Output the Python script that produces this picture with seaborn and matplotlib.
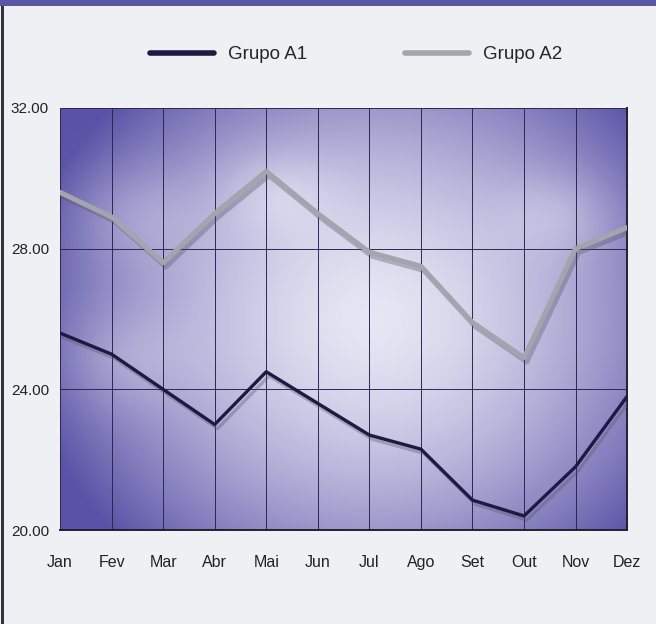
import numpy as np
import pandas as pd
import seaborn as sns
import matplotlib.pyplot as plt
import matplotlib.patheffects as pe
from matplotlib.patches import Rectangle
from matplotlib.colors import to_rgb

# --- Data ---
months = ["Jan", "Fev", "Mar", "Abr", "Mai", "Jun",
          "Jul", "Ago", "Set", "Out", "Nov", "Dez"]
grupo_a1 = [25.6, 25.0, 24.0, 23.0, 24.5, 23.6, 22.7, 22.3, 20.85, 20.4, 21.8, 23.8]
grupo_a2 = [29.6, 28.9, 27.6, 29.0, 30.2, 29.0, 27.9, 27.5, 25.9, 24.9, 28.0, 28.6]
series_names = ["Grupo A1", "Grupo A2"]
y_ticks = [20, 24, 28, 32]
# -------------------------------------

df = pd.concat([
    pd.DataFrame({"Mes": months, "Valor": grupo_a1, "Serie": series_names[0]}),
    pd.DataFrame({"Mes": months, "Valor": grupo_a2, "Serie": series_names[1]}),
])

sns.set_theme(style="white")
plt.rcParams["font.family"] = ["Liberation Sans", "DejaVu Sans"]

fig = plt.figure(figsize=(6.56, 6.24), dpi=100, facecolor="#eef0f3")
ax = fig.add_axes([0.0915, 0.1506, 0.8645, 0.6764])

# purple vignette background with a light centre
h, w = 300, 400
yy, xx = np.mgrid[0:1:h * 1j, 0:1:w * 1j]
r = np.sqrt(((xx - 0.55) / 0.62) ** 2 + ((yy - 0.5) / 0.75) ** 2)
f = np.clip(r, 0, 1) ** 1.6
for cx, cy, rad in [(0.12, 0.25, 0.12), (0.38, 0.2, 0.1), (0.88, 0.25, 0.1), (0.1, 0.6, 0.12)]:
    d = np.sqrt((xx - cx) ** 2 + (yy - cy) ** 2)
    f = f - 0.18 * np.exp(-((d / rad) ** 2))
f = np.clip(f, 0, 1)
light = np.array(to_rgb("#e6e6f4"))
dark = np.array(to_rgb("#5952a6"))
img = light[None, None, :] * (1 - f[..., None]) + dark[None, None, :] * f[..., None]
ax.imshow(img, extent=[0, 11, 20, 32], aspect="auto", zorder=0, origin="upper")

sns.lineplot(data=df, x="Mes", y="Valor", hue="Serie", sort=False, ax=ax,
             palette={"Grupo A1": "#1b1a42", "Grupo A2": "#a3a4ad"},
             linewidth=2.6, legend=False, zorder=3)
ax.lines[0].set_linewidth(2.4)
ax.lines[1].set_linewidth(3.6)
for ln in ax.lines:
    ln.set_path_effects([pe.SimpleLineShadow(offset=(2, -3), shadow_color="#555566", alpha=0.35),
                         pe.Normal()])

ax.set_xlim(0, 11)
ax.set_ylim(20, 32)
ax.set_yticks(y_ticks)
ax.set_yticklabels([f"{v:.2f}" for v in y_ticks], fontsize=11, color="#222222")
ax.set_xticks(range(len(months)))
ax.set_xticklabels(months, fontsize=11.5, color="#222222")
ax.tick_params(axis="x", pad=18, length=0)
ax.tick_params(axis="y", pad=8, length=0)
ax.set_xlabel("")
ax.set_ylabel("")

for i in range(len(months)):
    ax.axvline(i, color="#2a2850", linewidth=0.7, zorder=1)
for v in y_ticks:
    ax.axhline(v, color="#2a2850", linewidth=0.7, zorder=1)
for side in ["top", "left"]:
    ax.spines[side].set_visible(False)
for side in ["bottom", "right"]:
    ax.spines[side].set_color("#222233")
    ax.spines[side].set_linewidth(1.4)

# legend
handles = [plt.Line2D([], [], color="#1b1a42", linewidth=4),
           plt.Line2D([], [], color="#a3a4ad", linewidth=4)]
fig.legend(handles, series_names, loc="center", bbox_to_anchor=(0.543, 0.912),
           ncol=2, frameon=False, handlelength=3.4, handletextpad=0.75,
           columnspacing=5.2, fontsize=13.5)

# frame decoration: purple band at top, dark line at left
fig.patches.append(Rectangle((0, 0.99), 1, 0.01, transform=fig.transFigure,
                             facecolor="#5b56a3", edgecolor="none"))
fig.patches.append(Rectangle((0.002, 0), 0.004, 0.99, transform=fig.transFigure,
                             facecolor="#333340", edgecolor="none"))

fig.savefig("out.png", dpi=100, facecolor=fig.get_facecolor())
